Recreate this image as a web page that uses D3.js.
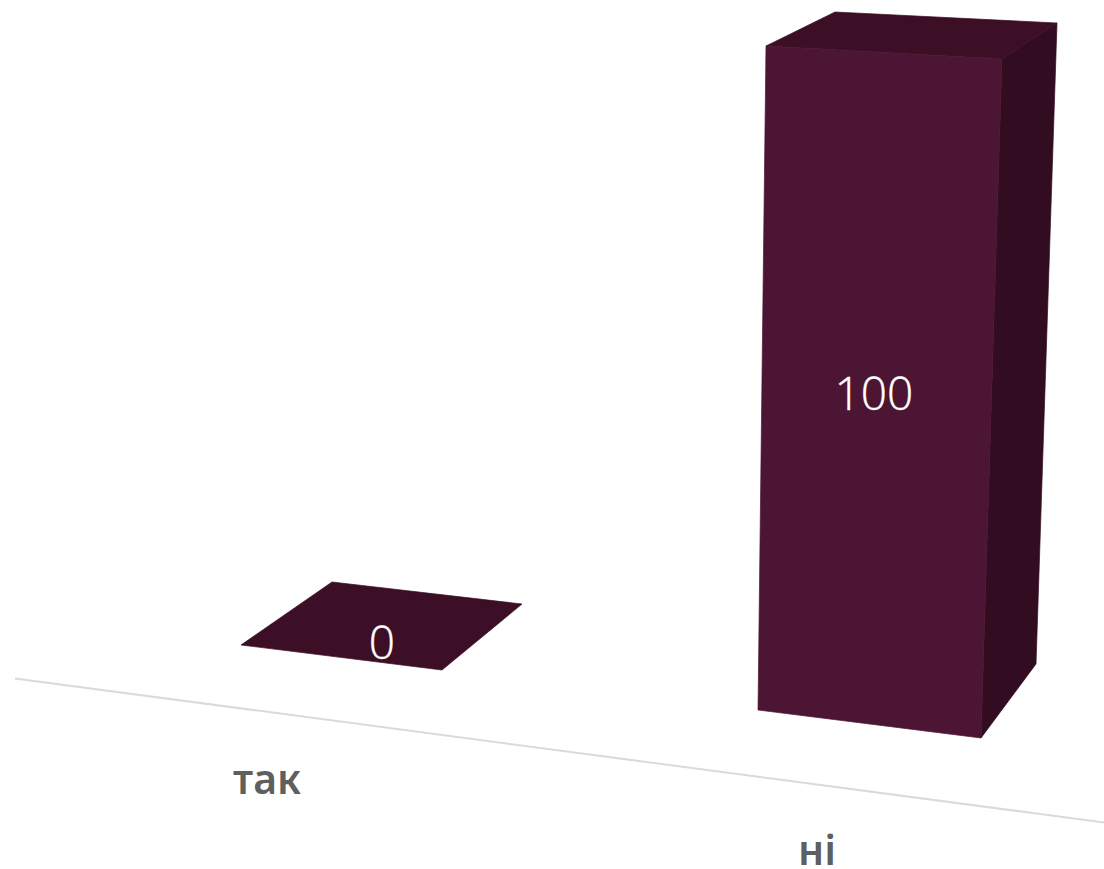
<!DOCTYPE html>
<html><head><meta charset="utf-8">
<script src="https://cdn.jsdelivr.net/npm/d3@7"></script>
<style>html,body{margin:0;padding:0;background:#fff}svg{display:block}</style>
</head><body><div id="c"></div>
<script>
const categories = ["так", "ні"];
const values = [0, 100];
const valueDomain = [0, 100];

const W = 1104, H = 869;
const svg = d3.select("#c").append("svg").attr("width", W).attr("height", H);

// Perspective projection of each bar's corners: [at value 0, at full value]
const geometry = [
  { fl:[[241,645],[241,645]], fr:[[442,670],[442,670]], br:[[522,604],[522,604]], bl:[[332,582],[332,582]],
    label:[267,794], valueAt:[382,659] },
  { fl:[[758,710],[766,46]], fr:[[981,738],[1002,59]], br:[[1036,664],[1057,23]], bl:[[813,640],[835,12]],
    label:[817,865], valueAt:[874,410] }
];
const corner = (c, v) => {
  const x = d3.scaleLinear().domain(valueDomain).range([c[0][0], c[1][0]]);
  const y = d3.scaleLinear().domain(valueDomain).range([c[0][1], c[1][1]]);
  return [x(v), y(v)];
};
const poly = d3.line();
const face = (g, pts, col) => g.append("path").attr("d", poly(pts)+"Z")
  .attr("fill",col).attr("stroke",col).attr("stroke-width",0.7).attr("stroke-linejoin","round");

// axis line
svg.append("line").attr("x1",15).attr("y1",678.5).attr("x2",1104).attr("y2",822.5)
  .attr("stroke","#dadada").attr("stroke-width",2);

categories.forEach((cat,i) => {
  const g = geometry[i], v = values[i];
  const g0 = svg.append("g");
  const topFL = corner(g.fl,v), topFR = corner(g.fr,v), topBR = corner(g.br,v), topBL = corner(g.bl,v);
  if (v > 0) {
    face(g0, [corner(g.fr,0), topFR, topBR, corner(g.br,0)], "#320c20");
    face(g0, [topFL, topFR, topBR, topBL], "#3c0f27");
    face(g0, [corner(g.fl,0), topFL, topFR, corner(g.fr,0)], "#4c1533");
  } else {
    face(g0, [topFL, topFR, topBR, topBL], "#3c0f27");
  }
  svg.append("text").attr("x",g.valueAt[0]).attr("y",g.valueAt[1]).attr("text-anchor","middle")
    .attr("font-family","'Open Sans', sans-serif").attr("font-weight",300).attr("font-size",46)
    .attr("stroke","#fff").attr("stroke-width",0.4)
    .attr("fill","#fff").text(v);
  svg.append("text").attr("x",g.label[0]).attr("y",g.label[1]).attr("text-anchor","middle")
    .attr("font-family","'Noto Sans', sans-serif").attr("font-weight",600).attr("font-size",41)
    .attr("fill","#5f5f5f").text(cat);
});
</script></body></html>
